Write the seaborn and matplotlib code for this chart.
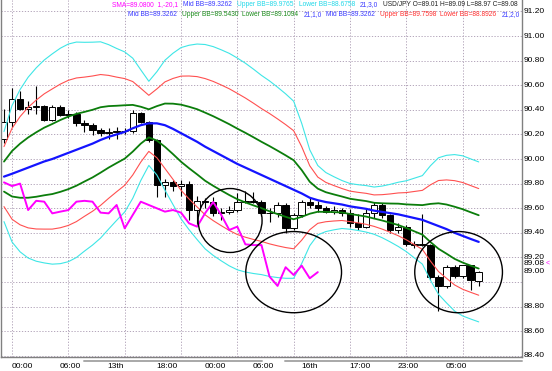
import numpy as np
import matplotlib
matplotlib.use("Agg")
import matplotlib.pyplot as plt
import matplotlib.transforms as mtransforms
from matplotlib.patches import Ellipse
import seaborn as sns

# USD/JPY candles, one per bar (oldest first)
opens = [90.16, 90.30, 90.485, 90.41, 90.425, 90.43, 90.317, 90.425, 90.358, 90.37,
         90.29, 90.277, 90.236, 90.214, 90.22, 90.23, 90.225, 90.377, 90.30, 90.155,
         89.79, 89.81, 89.78, 89.80, 89.585, 89.66, 89.653, 89.558, 89.572, 89.585,
         89.653, 89.66, 89.653, 89.564, 89.558, 89.626, 89.436, 89.545, 89.653, 89.626,
         89.599, 89.572, 89.585, 89.564, 89.477, 89.45, 89.56, 89.63, 89.545, 89.423,
         89.45, 89.306, 89.30, 89.30, 89.043, 88.965, 89.12, 89.05, 89.135, 89.01]
highs = [90.41, 90.575, 90.55, 90.47, 90.59, 90.44, 90.44, 90.44, 90.40, 90.38,
         90.32, 90.29, 90.25, 90.25, 90.26, 90.25, 90.40, 90.385, 90.31, 90.16,
         89.84, 89.83, 89.83, 89.82, 89.70, 89.68, 89.69, 89.60, 89.62, 89.72,
         89.74, 89.73, 89.67, 89.60, 89.65, 89.64, 89.56, 89.67, 89.68, 89.66,
         89.62, 89.62, 89.60, 89.59, 89.55, 89.60, 89.65, 89.64, 89.55, 89.48,
         89.46, 89.33, 89.55, 89.31, 89.06, 89.14, 89.135, 89.14, 89.14, 89.09]
lows = [90.13, 90.26, 90.40, 90.37, 90.37, 90.31, 90.31, 90.35, 90.33, 90.27,
        90.22, 90.195, 90.187, 90.16, 90.16, 90.20, 90.21, 90.29, 90.14, 89.69,
        89.69, 89.74, 89.70, 89.50, 89.46, 89.60, 89.54, 89.50, 89.55, 89.57,
        89.64, 89.64, 89.54, 89.49, 89.53, 89.40, 89.42, 89.53, 89.60, 89.57,
        89.56, 89.55, 89.54, 89.45, 89.42, 89.44, 89.52, 89.52, 89.40, 89.40,
        89.29, 89.28, 89.29, 89.02, 88.76, 88.95, 89.03, 89.03, 88.935, 88.97]
closes = [90.30, 90.485, 90.41, 90.425, 90.43, 90.317, 90.425, 90.358, 90.37, 90.29,
          90.277, 90.236, 90.214, 90.22, 90.23, 90.225, 90.377, 90.30, 90.155, 89.79,
          89.81, 89.78, 89.80, 89.585, 89.66, 89.653, 89.558, 89.572, 89.585, 89.653,
          89.66, 89.653, 89.564, 89.558, 89.626, 89.436, 89.545, 89.653, 89.626, 89.599,
          89.572, 89.585, 89.564, 89.477, 89.45, 89.56, 89.63, 89.545, 89.423, 89.45,
          89.306, 89.30, 89.30, 89.043, 88.965, 89.12, 89.05, 89.135, 89.02, 89.08]

# SMA(1) shifted -20 bars (magenta line)
sma_shift = [89.81, 89.78, 89.80, 89.585, 89.66, 89.653, 89.558, 89.572, 89.585, 89.653,
             89.66, 89.653, 89.564, 89.558, 89.626, 89.436, 89.545, 89.653, 89.626, 89.599,
             89.572, 89.585, 89.564, 89.477, 89.45, 89.56, 89.65, 89.545, 89.423, 89.45,
             89.306, 89.30, 89.30, 89.044, 88.968, 89.12, 89.057, 89.133, 89.03, 89.08]

# Bollinger(21) middle line and one standard deviation
bb_mid = [89.857, 89.88, 89.905, 89.93, 89.955, 89.98, 90.00, 90.025, 90.05, 90.075,
          90.10, 90.125, 90.155, 90.18, 90.20, 90.22, 90.25, 90.275, 90.29, 90.29,
          90.275, 90.245, 90.21, 90.175, 90.14, 90.10, 90.065, 90.03, 89.995, 89.96,
          89.93, 89.90, 89.87, 89.84, 89.81, 89.78, 89.75, 89.72, 89.685, 89.665,
          89.65, 89.64, 89.63, 89.615, 89.605, 89.595, 89.58, 89.57, 89.56, 89.55,
          89.535, 89.52, 89.505, 89.48, 89.455, 89.43, 89.40, 89.375, 89.35, 89.326]
bb_sd = [0.122, 0.185, 0.22, 0.245, 0.262, 0.275, 0.285, 0.292, 0.295, 0.292,
         0.283, 0.275, 0.266, 0.25, 0.233, 0.217, 0.19, 0.15, 0.114, 0.14,
         0.176, 0.205, 0.232, 0.25, 0.265, 0.277, 0.283, 0.286, 0.288, 0.287,
         0.283, 0.277, 0.27, 0.265, 0.258, 0.25, 0.24, 0.19, 0.13, 0.094,
         0.08, 0.072, 0.065, 0.062, 0.062, 0.063, 0.064, 0.07, 0.078, 0.087,
         0.096, 0.108, 0.12, 0.155, 0.185, 0.2, 0.212, 0.217, 0.217, 0.2168]

time_labels = ["00:00", "06:00", "13th", "18:00", "00:00", "06:00",
               "16th", "17:00", "23:00", "05:00"]

# hand drawn circles: centre bar, centre price, width (bars), height (price)
circles = [(28.1, 89.50, 7.95, 0.52),
           (36.0, 89.08, 11.9, 0.66),
           (56.5, 89.08, 10.9, 0.66)]

header_1 = [("SMA=89.0800  1,-20,1", "#ff00ff"),
            ("Mid BB=89.3262", "#3a3aff"),
            ("Upper BB=89.9765", "#20d8e8"),
            ("Lower BB=88.6758", "#20d8e8"),
            ("21,3,0", "#3a3aff"),
            ("USD/JPY O=89.01 H=89.09 L=88.97 C=89.08", "#202020")]
header_2 = [("Mid BB=89.3262", "#3a3aff"),
            ("Upper BB=89.5430", "#1a8a1a"),
            ("Lower BB=89.1094", "#1a8a1a"),
            ("21,1,0", "#3a3aff"),
            ("Mid BB=89.3262", "#3a3aff"),
            ("Upper BB=89.7598", "#ff3030"),
            ("Lower BB=88.8926", "#ff3030"),
            ("21,2,0", "#3a3aff")]

sns.set_style("white")
plt.rcParams["font.family"] = ["Liberation Sans", "DejaVu Sans"]

W, H = 552, 371
fig = plt.figure(figsize=(W / 100, H / 100), dpi=100)
ax = fig.add_axes([1 / W, 14 / H, 521 / W, 357 / H])

bars = np.arange(len(closes))
o = np.array(opens)
c = np.array(closes)
mid = np.array(bb_mid)
sd = np.array(bb_sd)

# grid
grid_kw = dict(color="#a898b0", lw=0.6, ls=(0, (1.5, 2)), zorder=1)
for p in np.arange(88.4, 91.21, 0.2):
    ax.axhline(p, **grid_kw)
for b in range(1, 60, 7):
    ax.axvline(b, **grid_kw)

# candles
ax.vlines(bars, lows, highs, color="black", lw=0.8, zorder=2)
body = np.maximum(np.abs(c - o), 0.006)
ax.bar(bars, body, bottom=np.minimum(o, c), width=0.8,
       color=np.where(c >= o, "white", "black"), edgecolor="black",
       linewidth=0.7, zorder=2.5)

# bollinger bands
bands = [(3, "#3ee6e6", 0.8), (2, "#ff5050", 0.8), (1, "#0b7d0b", 1.3)]
for k, color, lw in bands:
    for sign in (1, -1):
        sns.lineplot(x=bars, y=mid + sign * k * sd, color=color, lw=lw,
                     ax=ax, zorder=3)
sns.lineplot(x=bars, y=mid, color="#1414ff", lw=1.6, ax=ax, zorder=3.2)
sns.lineplot(x=bars[:len(sma_shift)], y=sma_shift, color="#ff00ff", lw=1.4,
             ax=ax, zorder=3.4)

for cx, cy, w, h in circles:
    ax.add_patch(Ellipse((cx, cy), w, h, fill=False, ec="black", lw=1.0,
                         zorder=5))

ax.set_xlim(-0.373, 64.38)
ax.set_ylim(88.39, 91.293)
ax.set_xticks([])
ax.set_yticks([])
ax.set_xlabel("")
ax.set_ylabel("")
for side in ["left", "right", "bottom"]:
    ax.spines[side].set_color("#808080")
    ax.spines[side].set_linewidth(1.0)
ax.spines["top"].set_visible(False)

# price scale
ytr = ax.get_yaxis_transform()
for p in np.arange(88.4, 91.21, 0.2):
    p = round(p, 2)
    if p == 89.0:
        continue
    ax.text(1.004, p, f"{p:.2f}", transform=ytr, fontsize=6, ha="left",
            va="center", color="black", clip_on=False)
shift = mtransforms.offset_copy(ytr, fig=fig, y=7.2, units="points")
ax.text(1.004, 89.0, "89.00", transform=shift, fontsize=6, ha="left",
        va="center", color="black")
shift2 = mtransforms.offset_copy(ytr, fig=fig, y=6.5, units="points")
ax.text(1.004, 89.08, "89.08", transform=shift2, fontsize=6, ha="left",
        va="center", color="black")
ax.text(1.046, 89.08, "<", transform=shift2, fontsize=5, ha="left",
        va="center", color="#ff00ff")

# time scale
xtr = mtransforms.blended_transform_factory(ax.transData, fig.transFigure)
for b, lab in zip(range(1, 60, 6), time_labels):
    ax.text(b - 0.1, 1 - 366 / H, lab, transform=xtr, fontsize=6,
            ha="left", va="center", color="black")
for x0, x1 in [(10.0, 32.1), (34.9, 64.38)]:
    ax.plot([x0, x1], [1 - 361 / H] * 2, transform=xtr, color="#a8a8a8",
            lw=1.4, clip_on=False)

# indicator header, fitted between the left and right pixel limits
fig.canvas.draw()
renderer = fig.canvas.get_renderer()


def lay_row(row, y, x_left, x_right, gap=4, size=5.2):
    texts = [fig.text(0, 1 - y / H, t, fontsize=size, color=col,
                      ha="left", va="center") for t, col in row]
    widths = [t.get_window_extent(renderer).width for t in texts]
    scale = (x_right - x_left - gap * (len(row) - 1)) / sum(widths)
    x = x_left
    for t, w in zip(texts, widths):
        t.set_fontsize(size * scale)
        t.set_x(x / W)
        x += w * scale + gap


lay_row(header_1, 5, 112, 520)
lay_row(header_2, 15, 128, 520)

fig.savefig("out.png", dpi=100)
